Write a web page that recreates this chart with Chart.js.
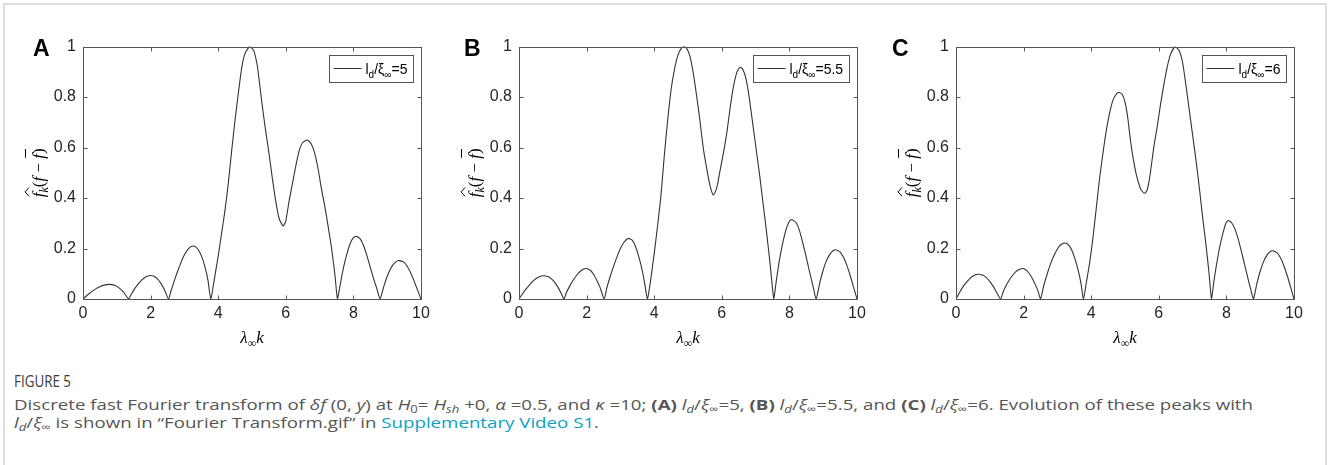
<!DOCTYPE html>
<html>
<head>
<meta charset="utf-8">
<script src="https://cdn.jsdelivr.net/npm/chart.js@4.4.1/dist/chart.umd.min.js"></script>
<style>
html, body { margin: 0; padding: 0; background: #fff; }
body { width: 1328px; height: 465px; position: relative; overflow: hidden; font-family: "Liberation Sans", Arial, sans-serif; }
.frame { position: absolute; left: 3px; top: 3px; width: 1320px; height: 490px; border: 2px solid #dedede; border-bottom: none; }
.panel { position: absolute; top: 30px; }
.tag { position: absolute; top: 37px; font: bold 23px/23px "Liberation Sans", Arial, sans-serif; color: #000; }
#figlabel { position: absolute; left: 14px; top: 371px; font: 17px/20px "Open Sans", sans-serif; color: #3c3c3c; white-space: nowrap; transform-origin: 0 0; }
#caption { position: absolute; left: 14px; top: 395px; font: 15px/18px "Open Sans", sans-serif; color: #565656; white-space: nowrap; transform-origin: 0 0; }
#caption sub { font-size: 70%; vertical-align: -3px; line-height: 0; }
#caption .lnk { color: #0aa2c4; }
</style>
</head>
<body>
<div class="frame"></div>

<canvas id="chartA" class="panel" width="428" height="320" style="left:13px"></canvas>
<canvas id="chartB" class="panel" width="428" height="320" style="left:449px"></canvas>
<canvas id="chartC" class="panel" width="428" height="320" style="left:886px"></canvas>

<div class="tag" style="left:33px">A</div>
<div class="tag" style="left:464px">B</div>
<div class="tag" style="left:892px">C</div>

<div id="figlabel">FIGURE 5</div>
<div id="caption"><span id="cap1">Discrete fast Fourier transform of <i>δf</i> (0, <i>y</i>) at <i>H</i><sub>0</sub>= <i>H</i><sub><i>sh</i></sub> +0, <i>α</i> =0.5, and <i>κ</i> =10; <b>(A)</b> <i>l<sub>d</sub></i>/<i>ξ</i><sub>∞</sub>=5, <b>(B)</b> <i>l<sub>d</sub></i>/<i>ξ</i><sub>∞</sub>=5.5, and <b>(C)</b> <i>l<sub>d</sub></i>/<i>ξ</i><sub>∞</sub>=6. Evolution of these peaks with</span><br><i>l<sub>d</sub></i>/<i>ξ</i><sub>∞</sub> is shown in “Fourier Transform.gif” in <span class="lnk">Supplementary Video S1</span>.</div>

<script>
// valores (lambda_inf * k, amplitud normalizada)
const kA = [
  0, 0.1, 0.2, 0.3, 0.4, 0.5, 0.6, 0.7, 0.8, 0.9, 1.0, 1.1, 1.2, 1.35,
  1.4, 1.5, 1.6, 1.7, 1.8, 1.9, 2.0, 2.1, 2.2, 2.3, 2.4, 2.53,
  2.6, 2.7, 2.8, 2.9, 3.0, 3.1, 3.2, 3.3, 3.4, 3.5, 3.6, 3.7, 3.78,
  3.9, 4.0, 4.1, 4.2, 4.3, 4.4, 4.5, 4.6, 4.7, 4.8, 4.93, 5.05, 5.15, 5.2, 5.3, 5.4, 5.5, 5.6, 5.7, 5.8, 5.9, 5.93,
  6.0, 6.1, 6.2, 6.3, 6.4, 6.5, 6.64, 6.75, 6.85, 6.95, 7.05, 7.15, 7.25, 7.35, 7.45, 7.53,
  7.6, 7.7, 7.8, 7.9, 8.0, 8.08, 8.2, 8.3, 8.4, 8.5, 8.6, 8.7, 8.79,
  8.9, 9.0, 9.1, 9.2, 9.3, 9.36, 9.5, 9.6, 9.7, 9.8, 9.9, 10
];
const fA = [
  0, 0.012, 0.023, 0.033, 0.042, 0.049, 0.054, 0.057, 0.058, 0.056, 0.050, 0.040, 0.027, 0,
  0.012, 0.035, 0.054, 0.070, 0.082, 0.090, 0.093, 0.090, 0.080, 0.063, 0.040, 0,
  0.030, 0.072, 0.110, 0.145, 0.175, 0.196, 0.208, 0.209, 0.197, 0.172, 0.132, 0.072, 0,
  0.09, 0.17, 0.26, 0.35, 0.46, 0.59, 0.71, 0.82, 0.92, 0.975, 1.0, 0.985, 0.93, 0.88, 0.77, 0.67, 0.58, 0.48, 0.39, 0.32, 0.292, 0.29,
  0.31, 0.39, 0.46, 0.53, 0.59, 0.62, 0.63, 0.615, 0.58, 0.52, 0.44, 0.37, 0.29, 0.205, 0.10, 0,
  0.05, 0.12, 0.175, 0.218, 0.243, 0.248, 0.238, 0.212, 0.172, 0.125, 0.08, 0.038, 0,
  0.05, 0.09, 0.12, 0.14, 0.151, 0.152, 0.145, 0.128, 0.102, 0.07, 0.035, 0
];

const kB = [
  0, 0.1, 0.2, 0.3, 0.4, 0.5, 0.6, 0.72, 0.85, 0.95, 1.05, 1.15, 1.25, 1.33,
  1.4, 1.5, 1.6, 1.7, 1.8, 1.9, 1.98, 2.1, 2.2, 2.3, 2.4, 2.52,
  2.6, 2.7, 2.8, 2.9, 3.0, 3.1, 3.23, 3.35, 3.45, 3.55, 3.65, 3.72, 3.80,
  3.9, 4.0, 4.1, 4.2, 4.3, 4.4, 4.5, 4.6, 4.7, 4.8, 4.88, 4.95, 5.05, 5.15, 5.25, 5.35, 5.45, 5.55, 5.65, 5.75,
  5.85, 5.95, 6.05, 6.15, 6.25, 6.35, 6.45, 6.54, 6.62, 6.72, 6.82, 6.92, 7.02, 7.12, 7.22, 7.32, 7.42, 7.54,
  7.6, 7.7, 7.8, 7.9, 8.0, 8.07, 8.2, 8.3, 8.4, 8.5, 8.6, 8.7, 8.79,
  8.9, 9.0, 9.1, 9.2, 9.3, 9.37, 9.5, 9.6, 9.7, 9.8, 9.9, 10
];
const fB = [
  0, 0.02, 0.038, 0.054, 0.069, 0.080, 0.088, 0.092, 0.089, 0.081, 0.067, 0.047, 0.022, 0,
  0.025, 0.051, 0.074, 0.093, 0.108, 0.118, 0.121, 0.115, 0.099, 0.074, 0.045, 0,
  0.045, 0.09, 0.13, 0.168, 0.200, 0.224, 0.240, 0.233, 0.207, 0.165, 0.11, 0.06, 0,
  0.08, 0.18, 0.29, 0.41, 0.57, 0.71, 0.83, 0.91, 0.965, 0.993, 1.0, 0.995, 0.965, 0.90, 0.81, 0.71, 0.60, 0.52, 0.45, 0.412,
  0.44, 0.51, 0.58, 0.66, 0.76, 0.845, 0.90, 0.918, 0.91, 0.87, 0.79, 0.69, 0.59, 0.49, 0.38, 0.27, 0.15, 0,
  0.06, 0.15, 0.22, 0.275, 0.308, 0.315, 0.302, 0.27, 0.22, 0.165, 0.105, 0.05, 0,
  0.065, 0.115, 0.153, 0.178, 0.192, 0.195, 0.186, 0.165, 0.133, 0.092, 0.046, 0
];

const kC = [
  0, 0.1, 0.2, 0.3, 0.4, 0.5, 0.6, 0.67, 0.8, 0.9, 1.0, 1.1, 1.2, 1.32,
  1.4, 1.5, 1.6, 1.7, 1.8, 1.9, 1.96, 2.05, 2.15, 2.25, 2.35, 2.43, 2.50,
  2.6, 2.7, 2.8, 2.9, 3.0, 3.1, 3.22, 3.33, 3.43, 3.53, 3.62, 3.7, 3.77,
  3.85, 3.95, 4.05, 4.15, 4.25, 4.35, 4.45, 4.55, 4.65, 4.75, 4.83, 4.92, 5.0, 5.08, 5.16, 5.25, 5.34, 5.45, 5.52, 5.58,
  5.65, 5.74, 5.85, 5.95, 6.05, 6.15, 6.25, 6.35, 6.48, 6.6, 6.7, 6.8, 6.9, 7.0, 7.1, 7.2, 7.3, 7.4, 7.48, 7.56,
  7.62, 7.7, 7.8, 7.9, 7.98, 8.05, 8.15, 8.25, 8.35, 8.45, 8.55, 8.65, 8.72, 8.80,
  8.9, 9.0, 9.1, 9.2, 9.3, 9.37, 9.5, 9.6, 9.7, 9.8, 9.9, 10
];
const fC = [
  0, 0.025, 0.047, 0.065, 0.08, 0.091, 0.097, 0.098, 0.094, 0.085, 0.07, 0.05, 0.027, 0,
  0.03, 0.057, 0.08, 0.098, 0.112, 0.119, 0.121, 0.117, 0.104, 0.083, 0.056, 0.03, 0,
  0.055, 0.10, 0.14, 0.172, 0.198, 0.215, 0.222, 0.214, 0.192, 0.155, 0.11, 0.06, 0,
  0.06, 0.14, 0.24, 0.36, 0.48, 0.58, 0.67, 0.74, 0.79, 0.813, 0.818, 0.81, 0.78, 0.72, 0.63, 0.55, 0.49, 0.44, 0.425, 0.419,
  0.43, 0.49, 0.60, 0.68, 0.77, 0.85, 0.92, 0.97, 1.0, 0.985, 0.94, 0.85, 0.75, 0.65, 0.55, 0.44, 0.32, 0.21, 0.11, 0,
  0.06, 0.13, 0.205, 0.262, 0.298, 0.311, 0.303, 0.278, 0.237, 0.185, 0.13, 0.075, 0.038, 0,
  0.06, 0.11, 0.148, 0.174, 0.188, 0.191, 0.183, 0.163, 0.132, 0.092, 0.047, 0
];

// l_d / xi_inf de cada panel (texto de leyenda)
const ratios = ['5', '5.5', '6'];
const xTickStep = 2;
const yTickStep = 0.2;

const axisColor = '#555555';
const lineColor = '#333333';
const tickFont = { family: '"Liberation Sans", Arial, sans-serif', size: 16 };
const mathFont = '"Liberation Serif", "DejaVu Serif", serif';

// Marco y marcas hacia adentro (estilo MATLAB)
const frameTicks = {
    id: 'frameTicks',
    afterDatasetsDraw(chart) {
        const { ctx, chartArea: a, scales: { x, y } } = chart;
        const L = Math.round(a.left) + 0.5, R = Math.round(a.right) + 0.5;
        const T = Math.round(a.top) + 0.5, B = Math.round(a.bottom) + 0.5;
        ctx.save();
        ctx.strokeStyle = axisColor;
        ctx.lineWidth = 1;
        ctx.strokeRect(L, T, R - L, B - T);
        ctx.beginPath();
        x.ticks.forEach(t => {
            const px = Math.round(x.getPixelForValue(t.value)) + 0.5;
            ctx.moveTo(px, B); ctx.lineTo(px, B - 4);
            ctx.moveTo(px, T); ctx.lineTo(px, T + 4);
        });
        y.ticks.forEach(t => {
            const py = Math.round(y.getPixelForValue(t.value)) + 0.5;
            ctx.moveTo(L, py); ctx.lineTo(L + 4, py);
            ctx.moveTo(R, py); ctx.lineTo(R - 4, py);
        });
        ctx.stroke();
        ctx.restore();
    }
};

// Dibuja una secuencia [texto, fuente, desplazamiento vertical]
function drawRun(ctx, parts, x0, y0) {
    let x = x0;
    parts.forEach(p => {
        ctx.font = p[1];
        ctx.fillText(p[0], x, y0 + p[2]);
        x += ctx.measureText(p[0]).width;
    });
    return x;
}
function runWidth(ctx, parts) {
    let w = 0;
    parts.forEach(p => { ctx.font = p[1]; w += ctx.measureText(p[0]).width; });
    return w;
}

// Leyenda y titulos de ejes con subindices
const labelsPlugin = {
    id: 'labelsPlugin',
    afterDraw(chart) {
        const { ctx, chartArea: a } = chart;
        const ratio = chart.options.plugins.labelsPlugin.ratio;
        ctx.save();
        ctx.fillStyle = '#000';
        ctx.textBaseline = 'alphabetic';

        // leyenda
        const sans = '"Liberation Sans", Arial, sans-serif';
        const legParts = [
            ['l', '14px ' + sans, 0], ['d', '10px ' + sans, 4],
            ['/\u03BE', '14px ' + sans, 0], ['\u221E', '10px ' + sans, 4],
            ['=' + ratio, '14px ' + sans, 0]
        ];
        const tw = runWidth(ctx, legParts);
        const bw = Math.round(4 + 28 + 4 + tw + 6), bh = 27;
        const bx = Math.round(a.right) - 8 - bw + 0.5, by = Math.round(a.top) + 8 + 0.5;
        ctx.fillStyle = '#fff';
        ctx.fillRect(bx, by, bw, bh);
        ctx.strokeStyle = axisColor;
        ctx.lineWidth = 1;
        ctx.strokeRect(bx, by, bw, bh);
        ctx.strokeStyle = lineColor;
        ctx.beginPath();
        ctx.moveTo(bx + 4, by + 13); ctx.lineTo(bx + 32, by + 13);
        ctx.stroke();
        ctx.fillStyle = '#000';
        drawRun(ctx, legParts, bx + 36, by + 18);

        // titulo eje x: lambda_inf k
        const xParts = [
            ['\u03BB', 'italic 17px ' + mathFont, 0],
            ['\u221E', '12px ' + mathFont, 4],
            ['k', 'italic 17px ' + mathFont, 0]
        ];
        const xw = runWidth(ctx, xParts);
        drawRun(ctx, xParts, (a.left + a.right) / 2 - xw / 2, a.bottom + 44);

        // titulo eje y: f^_k (f - fbar)
        const yParts = [
            ['f', 'italic 17px ' + mathFont, 0],
            ['k', 'italic 12px ' + mathFont, 4],
            ['(', '17px ' + mathFont, 0],
            ['f', 'italic 17px ' + mathFont, 0],
            [' \u2212 ', '17px ' + mathFont, 0],
            ['f', 'italic 17px ' + mathFont, 0],
            [')', '17px ' + mathFont, 0]
        ];
        const yw = runWidth(ctx, yParts);
        ctx.translate(a.left - 43, (a.top + a.bottom) / 2);
        ctx.rotate(-Math.PI / 2);
        const sx = -yw / 2;
        drawRun(ctx, yParts, sx, 4);
        ctx.font = 'italic 17px ' + mathFont;
        const fw = ctx.measureText('f').width;
        // sombrero sobre la primera f
        ctx.strokeStyle = '#000';
        ctx.lineWidth = 1;
        ctx.beginPath();
        ctx.moveTo(sx + 1, -11); ctx.lineTo(sx + fw / 2 + 3, -15); ctx.lineTo(sx + fw + 5, -11);
        ctx.stroke();
        // barra sobre la ultima f
        const lastX = sx + runWidth(ctx, yParts.slice(0, 5));
        ctx.beginPath();
        ctx.moveTo(lastX + 1, -14.5); ctx.lineTo(lastX + fw + 5, -14.5);
        ctx.stroke();
        ctx.restore();
    }
};

function makePanel(id, ks, fs, ratio) {
    const pts = ks.map((k, i) => ({ x: k, y: fs[i] }));
    return new Chart(document.getElementById(id), {
        type: 'line',
        data: {
            datasets: [{
                label: 'ld/xi=' + ratio,
                data: pts,
                borderColor: lineColor,
                borderWidth: 1.1,
                pointRadius: 0,
                tension: 0.2,
                fill: false
            }]
        },
        options: {
            responsive: false,
            animation: false,
            layout: { padding: { top: 12, right: 20, left: 0, bottom: 0 } },
            plugins: {
                legend: { display: false },
                tooltip: { enabled: false },
                labelsPlugin: { ratio: ratio }
            },
            scales: {
                x: {
                    type: 'linear', min: 0, max: 10,
                    ticks: { stepSize: xTickStep, color: '#262626', font: tickFont, padding: 5, maxRotation: 0 },
                    grid: { display: false, drawTicks: false },
                    border: { display: false },
                    afterFit: s => { s.height = 51; }
                },
                y: {
                    type: 'linear', min: 0, max: 1,
                    ticks: {
                        stepSize: yTickStep, color: '#262626', font: tickFont, padding: 7,
                        callback: v => String(Math.round(v * 10) / 10)
                    },
                    grid: { display: false, drawTicks: false },
                    border: { display: false },
                    afterFit: s => { s.width = 70; }
                }
            }
        },
        plugins: [frameTicks, labelsPlugin]
    });
}

makePanel('chartA', kA, fA, ratios[0]);
makePanel('chartB', kB, fB, ratios[1]);
makePanel('chartC', kC, fC, ratios[2]);

// Ajuste del ancho del pie de figura (fuente condensada en el original)
function fitWidth(el, ref, target) {
    const w = ref.getBoundingClientRect().width;
    el.style.transform = 'scaleX(' + (target / w) + ')';
}
fitWidth(document.getElementById('figlabel'), document.getElementById('figlabel'), 57);
fitWidth(document.getElementById('caption'), document.getElementById('cap1'), 1239);
</script>
</body>
</html>
